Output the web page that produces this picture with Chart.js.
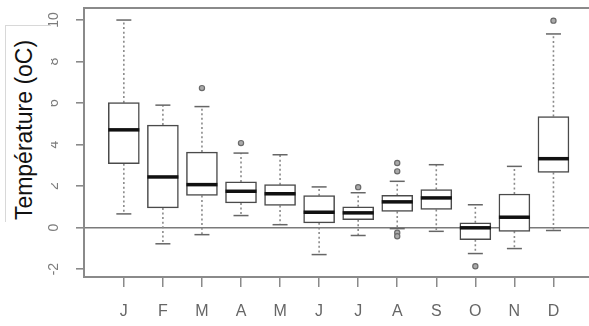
<!DOCTYPE html>
<html>
<head>
<meta charset="utf-8">
<script src="https://cdn.jsdelivr.net/npm/chart.js@4"></script>
<style>
  html, body { margin: 0; padding: 0; background: #fff; overflow: hidden; }
  #wrap { position: relative; width: 589px; height: 326px; }
  #c { display: block; }
  #ylabel {
    position: absolute; left: 5px; top: 25px; width: 45px; height: 196px;
    background: #fff; border-left: 1px solid #d8d8d8; border-top: 1px solid #d8d8d8;
  }
  #ylabel span {
    position: absolute; left: 18px; top: 104px;
    transform: translate(-50%, -50%) rotate(-90deg);
    white-space: nowrap; font-family: "Liberation Sans", Arial, sans-serif;
    font-size: 23px; color: #111;
  }
</style>
</head>
<body>
<div id="wrap">
  <canvas id="c" width="589" height="326"></canvas>
  <div id="ylabel"><span>Température (oC)</span></div>
</div>
<script>
// Monthly temperature distribution (°C)
const months = ['J', 'F', 'M', 'A', 'M', 'J', 'J', 'A', 'S', 'O', 'N', 'D'];
const lowerWhisker = [0.66, -0.78, -0.34, 0.58, 0.14, -1.30, -0.38, -0.05, -0.18, -1.25, -1.01, -0.14];
const q1           = [3.08,  0.95,  1.55, 1.19, 1.07,  0.23,  0.38,  0.78,  0.87, -0.58, -0.18,  2.66];
const median       = [4.71,  2.44,  2.07, 1.75, 1.63,  0.74,  0.71,  1.24,  1.43, -0.01,  0.50,  3.32];
const q3           = [6.02,  4.94,  3.64, 2.20, 2.07,  1.54,  1.00,  1.55,  1.83,  0.23,  1.62,  5.35];
const upperWhisker = [10.0,  5.90,  5.83, 3.59, 3.51,  1.96,  1.68,  2.23,  3.03,  1.10,  2.95,  9.33];
const outliers     = [[], [], [6.72], [4.07], [], [], [1.95], [3.11, 2.71, -0.25, -0.42], [], [-1.86], [], [9.97]];
const yTicks = [-2, 0, 2, 4, 6, 8, 10];

const positions = months.map((m, i) => i + 1);

// dotted whisker segments, broken between months
const whiskerPts = [];
positions.forEach((x, i) => {
  whiskerPts.push({ x, y: q3[i] }, { x, y: upperWhisker[i] }, { x, y: null });
  whiskerPts.push({ x, y: q1[i] }, { x, y: lowerWhisker[i] }, { x, y: null });
});
const capPts = [];
positions.forEach((x, i) => {
  capPts.push({ x, y: upperWhisker[i] }, { x, y: lowerWhisker[i] });
});
const outlierPts = [];
positions.forEach((x, i) => outliers[i].forEach(y => outlierPts.push({ x, y })));

const framePlugin = {
  id: 'frame',
  afterDraw(chart) {
    const { ctx, chartArea, scales } = chart;
    ctx.save();
    // top border of the plot frame
    ctx.strokeStyle = '#8a8a8a';
    ctx.lineWidth = 2;
    ctx.beginPath();
    ctx.moveTo(chartArea.left - 1, chartArea.top);
    ctx.lineTo(chartArea.right, chartArea.top);
    ctx.stroke();
    // y tick labels, written parallel to the axis
    ctx.fillStyle = '#7c7c7c';
    ctx.font = '14px "Liberation Sans", Arial, sans-serif';
    ctx.textAlign = 'center';
    ctx.textBaseline = 'middle';
    yTicks.forEach(v => {
      const y = scales.y.getPixelForValue(v);
      ctx.save();
      ctx.translate(chartArea.left - 30, y);
      ctx.rotate(-Math.PI / 2);
      ctx.fillText(String(v), 0, 0);
      ctx.restore();
    });
    ctx.restore();
  }
};

new Chart(document.getElementById('c'), {
  type: 'bar',
  data: {
    labels: positions,
    datasets: [
      {
        type: 'scatter', label: 'median', order: 0,
        data: positions.map((x, i) => ({ x, y: median[i] })),
        pointStyle: 'line', pointRadius: 15.5, pointBorderWidth: 3.5,
        pointBorderColor: '#111', showLine: false
      },
      {
        type: 'scatter', label: 'caps', order: 1,
        data: capPts,
        pointStyle: 'line', pointRadius: 7.5, pointBorderWidth: 1.5,
        pointBorderColor: '#666', showLine: false
      },
      {
        type: 'scatter', label: 'outliers', order: 1,
        data: outlierPts,
        pointStyle: 'circle', pointRadius: 2.6, pointBorderWidth: 1.2,
        pointBorderColor: '#6a6a6a', pointBackgroundColor: '#aaa', showLine: false
      },
      {
        type: 'bar', label: 'IQR', order: 2,
        data: positions.map((x, i) => [q1[i], q3[i]]),
        backgroundColor: '#fff', borderColor: '#4a4a4a', borderWidth: 1.5,
        borderSkipped: false, barThickness: 31
      },
      {
        type: 'line', label: 'whiskers', order: 3,
        data: whiskerPts,
        borderColor: '#8a8a8a', borderWidth: 1.6, borderDash: [2, 2.6],
        pointRadius: 0, spanGaps: false, fill: false
      }
    ]
  },
  options: {
    responsive: false,
    animation: false,
    events: [],
    layout: { autoPadding: false, padding: { top: 8, left: 0, right: 0, bottom: 0 } },
    plugins: { legend: { display: false }, tooltip: { enabled: false } },
    scales: {
      x: {
        type: 'linear', min: -0.02, max: 12.91, offset: false,
        afterBuildTicks: s => { s.ticks = positions.map(v => ({ value: v })); },
        afterFit: s => { s.height = 49; s.paddingLeft = 0; s.paddingRight = 0; },
        ticks: {
          callback: v => months[v - 1],
          color: '#666', padding: 15,
          font: { family: '"Liberation Sans", Arial, sans-serif', size: 16 },
          maxRotation: 0, autoSkip: false
        },
        grid: { offset: false, drawOnChartArea: false, tickLength: 10, tickColor: '#8a8a8a', lineWidth: 1.5 },
        border: { display: true, color: '#8a8a8a', width: 2 }
      },
      y: {
        type: 'linear', min: -2.38, max: 10.58,
        afterBuildTicks: s => { s.ticks = yTicks.map(v => ({ value: v })); },
        afterFit: s => { s.width = 84; },
        ticks: { display: false },
        grid: {
          color: c => (c.tick && c.tick.value === 0 ? '#7a7a7a' : 'rgba(0,0,0,0)'),
          lineWidth: 1.6, tickLength: 8, tickColor: '#8a8a8a', drawTicks: true
        },
        border: { display: true, color: '#8a8a8a', width: 2 }
      }
    }
  },
  plugins: [framePlugin]
});
</script>
</body>
</html>
